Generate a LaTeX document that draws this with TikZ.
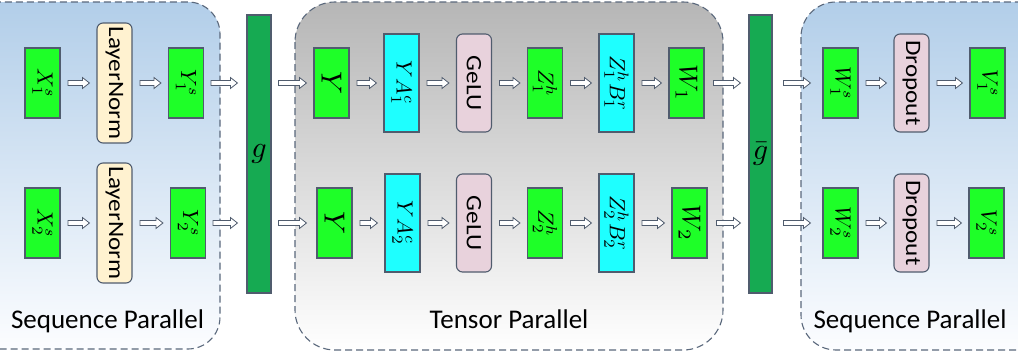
\documentclass[tikz,border=0pt]{standalone}
\usepackage{fontspec}
\setmainfont{Carlito}
\usepackage{graphicx}
\usetikzlibrary{calc}
\definecolor{bord}{RGB}{80,92,110}
\definecolor{grn}{RGB}{30,255,40}
\definecolor{cyn}{RGB}{30,255,255}
\definecolor{dgrn}{RGB}{22,170,82}
\definecolor{beige}{RGB}{255,242,208}
\definecolor{pinkc}{RGB}{232,210,220}
\definecolor{panelline}{RGB}{90,104,124}
\definecolor{ga}{RGB}{182,182,182}
\definecolor{gm}{RGB}{238,238,238}
\definecolor{ge}{RGB}{255,255,255}
\definecolor{ba}{RGB}{178,206,233}
\definecolor{bm}{RGB}{224,235,247}
\definecolor{be}{RGB}{252,253,255}
\begin{document}
\begin{tikzpicture}[x=1pt,y=-1pt,
 box/.style={draw=bord, line width=1.1pt, inner sep=0pt, minimum width=35pt, text=black},
 gbox/.style={box, fill=grn, minimum height=70pt},
 cbox/.style={box, fill=cyn, minimum height=98pt},
 rbox/.style={box, rounded corners=6pt, minimum height=98pt},
 bar/.style={box, fill=dgrn, minimum width=24pt, minimum height=278pt},
 panel/.style={draw=panelline, dash pattern=on 7pt off 4pt, line width=1.1pt},
 bluepanel/.style={panel, top color=ba, middle color=bm, bottom color=be},
 graypanel/.style={panel, top color=ga, middle color=gm, bottom color=ge},
 plabel/.style={anchor=base, font=\fontsize{27}{30}\selectfont, inner sep=0pt},
 fat/.style={draw=bord, fill=white, line width=0.8pt, to path={
   let \p1=(\tikztostart), \p2=(\tikztotarget) in
   (\x1,\y1+2.5pt) -- (\x2-7pt,\y1+2.5pt) -- (\x2-7pt,\y1+5.5pt) -- (\x2,\y1)
   -- (\x2-7pt,\y1-5.5pt) -- (\x2-7pt,\y1-2.5pt) -- (\x1,\y1-2.5pt) -- cycle}}
]
\newcommand{\rt}[2][22]{\rotatebox{-90}{\scalebox{1.14}[1]{\fontsize{#1}{#1}\selectfont #2}}}
\newcommand{\rmth}[2][2.2]{\rotatebox{-90}{\scalebox{#1}{$#2$}}}
\clip (0,0) rectangle (1018,356);
\fill[white] (0,0) rectangle (1018,356);
% panels
\path[bluepanel, rounded corners=32pt] (-40,2) rectangle (220,349);
\path[graypanel, rounded corners=40pt] (295,2) rectangle (723,350);
\path[bluepanel, rounded corners=35pt] (801,2) rectangle (1060,350);
\node[plabel] (lab1) at (107.5,328) {Sequence Parallel};
\node[plabel] (lab2) at (509,328) {Tensor Parallel};
\node[plabel] (lab3) at (910,328) {Sequence Parallel};
% bars
\node[bar] (g) at (259,154) {\scalebox{3}{$g$}};
\node[bar, minimum width=23pt] (gbar) at (760.5,154) {\scalebox{3}{$\bar{g}$}};
% row 1
\node[gbox] (x1) at (42.5,83) {\rmth{X_1^s}};
\node[rbox, fill=beige, minimum height=120pt] (ln1) at (114.5,83) {\rt{LayerNorm}};
\node[gbox] (y1s) at (186,83) {\rmth{Y_1^s}};
\node[gbox] (ya) at (331.5,83) {\rmth[2.9]{Y}};
\node[cbox] (ya1) at (401.5,83) {\rmth{YA_1^c}};
\node[rbox, fill=pinkc] (ge1) at (474,83) {\rt{GeLU}};
\node[gbox] (z1) at (545,83) {\rmth{Z_1^h}};
\node[cbox] (zb1) at (616.5,83) {\rmth{Z_1^h B_1^r}};
\node[gbox] (w1) at (686.5,83) {\rmth[2.6]{W_1}};
\node[gbox] (w1s) at (840.5,83) {\rmth{W_1^s}};
\node[rbox, fill=pinkc] (dr1) at (911.5,83) {\rt{Dropout}};
\node[gbox] (v1) at (987.5,83) {\rmth{V_1^s}};
% row 2
\node[gbox] (x2) at (42.5,223) {\rmth{X_2^s}};
\node[rbox, fill=beige, minimum height=120pt] (ln2) at (114.5,223) {\rt{LayerNorm}};
\node[gbox] (y2s) at (188,223) {\rmth{Y_2^s}};
\node[gbox] (yb) at (334.5,223) {\rmth[2.9]{Y}};
\node[cbox] (ya2) at (402.5,223) {\rmth{YA_2^c}};
\node[rbox, fill=pinkc] (ge2) at (474,223) {\rt{GeLU}};
\node[gbox] (z2) at (545,223) {\rmth{Z_2^h}};
\node[cbox] (zb2) at (616.5,223) {\rmth{Z_2^h B_2^r}};
\node[gbox] (w2) at (689.5,223) {\rmth[2.6]{W_2}};
\node[gbox] (w2s) at (840.5,223) {\rmth{W_2^s}};
\node[rbox, fill=pinkc] (dr2) at (911.5,223) {\rt{Dropout}};
\node[gbox] (v2) at (986.5,223) {\rmth{V_2^s}};
% arrows
\foreach \a/\b in {x1/ln1,ln1/y1s,ya/ya1,ya1/ge1,ge1/z1,z1/zb1,zb1/w1,w1s/dr1,dr1/v1,
                   x2/ln2,ln2/y2s,yb/ya2,ya2/ge2,ge2/z2,z2/zb2,zb2/w2,w2s/dr2,dr2/v2}
  \draw[fat] ([xshift=7.5pt]\a.east) to ([xshift=-7pt]\b.west);
\foreach \r in {1,2}{
  \draw[fat] ([xshift=7pt]y\r s.east) to ([xshift=-9pt]g.west |- y\r s.east);
  \draw[fat] ([xshift=9pt]w\r.east) to ([xshift=-8pt]gbar.west |- w\r.east);
  \draw[fat] ([xshift=11pt]gbar.east |- w\r s.west) to ([xshift=-12pt]w\r s.west);
}
\draw[fat] ([xshift=7pt]g.east |- ya.west) to ([xshift=-7pt]ya.west);
\draw[fat] ([xshift=7pt]g.east |- yb.west) to ([xshift=-10pt]yb.west);
\end{tikzpicture}
\end{document}
